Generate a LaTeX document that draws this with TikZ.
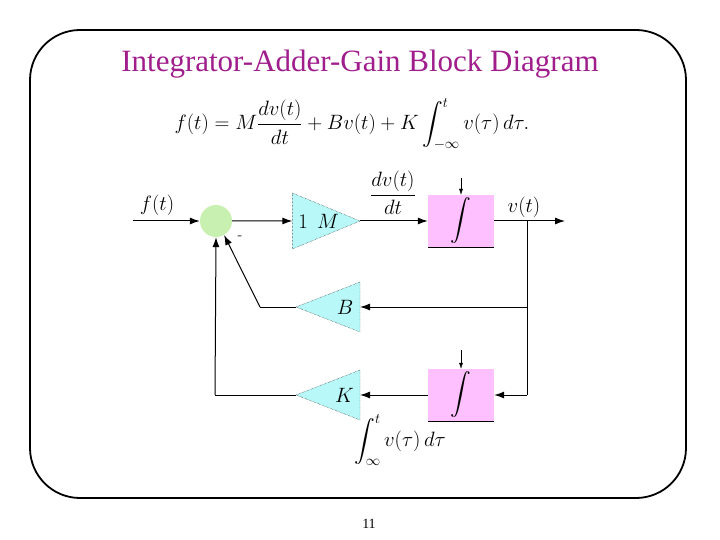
\documentclass[tikz,border=0pt]{standalone}
\usepackage{amsmath}
\usepackage{fontspec}
\newfontfamily\timesf{Liberation Serif}
\usetikzlibrary{shapes.geometric,arrows.meta}
\definecolor{titlec}{RGB}{160,30,140}
\definecolor{sumc}{RGB}{200,240,176}
\definecolor{gainc}{RGB}{184,248,248}
\definecolor{intc}{RGB}{255,192,255}
\begin{document}
\begin{tikzpicture}[x=1pt,y=-1pt,
  big/.style={font=\fontsize{22}{26}\selectfont},
  arr/.style={-{Latex[length=10pt,width=7pt]},line width=1pt},
  ln/.style={line width=1pt},
  gain/.style={isosceles triangle,isosceles triangle stretches,fill=gainc,draw=black,densely dotted,
    minimum width=50pt,minimum height=64pt,inner sep=0pt,outer sep=0pt,big},
  intg/.style={rectangle,fill=intc,minimum width=66pt,minimum height=52pt,inner sep=0pt,big}]
\useasboundingbox (0,0) rectangle (720,540);
\draw[line width=1.8pt,rounded corners=50pt] (30,30) rectangle (686,498);
\node[text=titlec,font=\timesf\fontsize{31}{35}\selectfont] (title) at (360,64) {Integrator-Adder-Gain Block Diagram};
\node[font=\fontsize{21}{25}\selectfont] (eq) at (352,124) {$f(t)=M\dfrac{dv(t)}{dt}+Bv(t)+K\displaystyle\int_{-\infty}^{t}v(\tau)\,d\tau.$};
% blocks
\node[circle,fill=sumc,minimum size=32pt,inner sep=0pt] (sum) at (216,221) {};
\node[gain,anchor=apex] (m) at (360,221) {\hspace*{6pt}$1\;\,M$\hspace*{4pt}};
\node[intg] (i1) at (461,221) {$\displaystyle\int$};
\draw[ln] (i1.south west) -- (i1.south east);
\node[gain,shape border rotate=180,anchor=apex] (b) at (296,307) {\hspace*{4pt}$B$};
\node[intg] (i2) at (461,395) {$\displaystyle\int$};
\draw[ln] (i2.south west) -- (i2.south east);
\node[gain,shape border rotate=180,anchor=apex] (k) at (296,395) {\hspace*{4pt}$K$};
% coordinates
\coordinate (in) at (133,221);
\coordinate (out) at (565,221);
\coordinate (br) at (527,221);
\coordinate (brb) at (527,307);
\coordinate (brk) at (527,395);
\coordinate (bl) at (260,307);
\coordinate (kl) at (215,395);
\coordinate (t1) at (461,178);
\coordinate (t2) at (461,350);
% connectors
\draw[arr] (in) -- (sum.west);
\draw[arr] (sum.east) -- (m.west);
\draw[arr] (m.apex) -- (i1.west);
\draw[arr] (i1.east) -- (out);
\draw[-{Latex[length=6pt,width=4pt]}] (t1) -- (i1.north);
\draw[-{Latex[length=6pt,width=4pt]}] (t2) -- (i2.north);
\draw[ln] (br) -- (brk);
\draw[arr] (brb) -- (b.east);
\draw[ln] (b.apex) -- (bl);
\draw[arr] (bl) -- (sum.-60);
\draw[arr] (brk) -- (i2.east);
\draw[arr] (i2.west) -- (k.east);
\draw[ln] (k.apex) -- (kl);
\draw[arr] (kl) -- (sum.south);
% labels
\node[big] (lf) at (157,205) {$f(t)$};
\node[big] (ldv) at (393,193) {$\dfrac{dv(t)}{dt}$};
\node[big] (lv) at (524,207) {$v(t)$};
\node[font=\Large] (lminus) at (240,238) {-};
\node[big] (lint) at (400,440) {$\displaystyle\int_{\infty}^{t}v(\tau)\,d\tau$};
\node[font=\timesf\fontsize{14}{16}\selectfont] (page) at (369,524) {11};
\end{tikzpicture}
\end{document}
